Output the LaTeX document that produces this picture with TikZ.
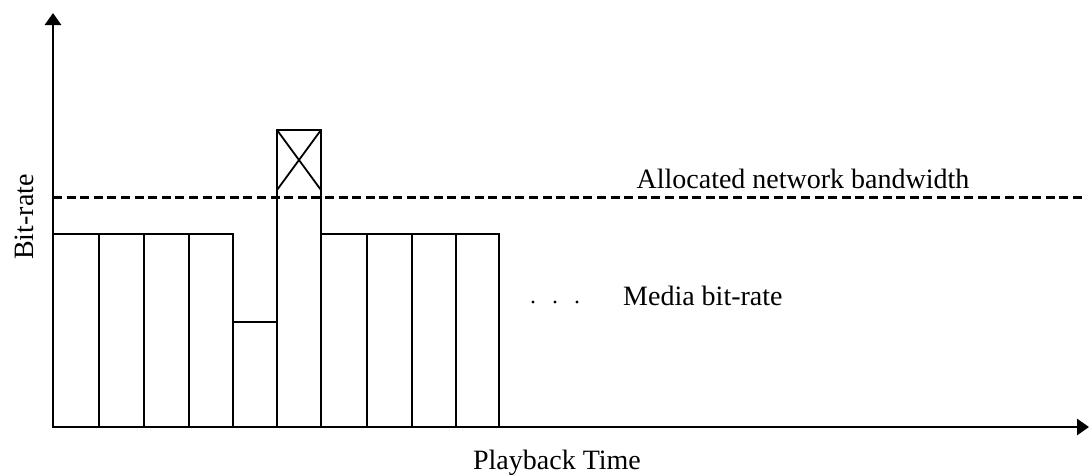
\documentclass[tikz,border=0pt]{standalone}
\usepackage{fontspec}
\setmainfont{Liberation Serif}
\usetikzlibrary{arrows.meta}
\begin{document}
\begin{tikzpicture}[x=1pt,y=-1pt,
  axis/.style={line width=2.8pt,-{Triangle[length=12pt,width=16pt]}},
  slot/.style={draw,line width=1.8pt},
  limit/.style={line width=3pt,dash pattern=on 9pt off 4.6pt},
  lbl/.style={font=\fontsize{28}{32}\selectfont,inner sep=0pt},
  dot/.style={circle,fill,inner sep=0pt,minimum size=3.4pt}]
\useasboundingbox (0,0) rectangle (1089,475);

% bit-rate slots along the playback timeline
\foreach \xa/\xb/\top in {53/99/234, 99/144/234, 144/189/234, 189/233/234,
    233/277/322, 277/321/130, 321/367/234, 367/412/234, 412/456/234, 456/499/234}
  \draw[slot] (\xa,427) rectangle (\xb,\top);

% the slot that exceeds the allocation is crossed out
\draw[line width=1.8pt] (277,130) -- (321,190) (321,130) -- (277,190);

% allocated bandwidth level
\coordinate (bwL) at (53,197);
\coordinate (bwR) at (1082,197);
\draw[limit] (bwL) -- (bwR);

% axes
\coordinate (origin) at (53,427);
\coordinate (ytip) at (53,13);
\coordinate (xtip) at (1089,427);
\draw[axis] (origin) -- (ytip);
\draw[axis] (origin) -- (xtip);

% labels
\node[lbl,anchor=base] (bwlabel) at (803,188) {Allocated network bandwidth};
\node[lbl,anchor=base west] (medialabel) at (623,305) {Media bit-rate};
\node[lbl,anchor=base] (xlabel) at (557,469) {Playback Time};
\node[lbl,anchor=base,rotate=90] (ylabel) at (33,217) {Bit-rate};

% continuation dots
\node[dot] (d1) at (533,302) {};
\node[dot] (d2) at (555,302) {};
\node[dot] (d3) at (577,302) {};
\end{tikzpicture}
\end{document}
